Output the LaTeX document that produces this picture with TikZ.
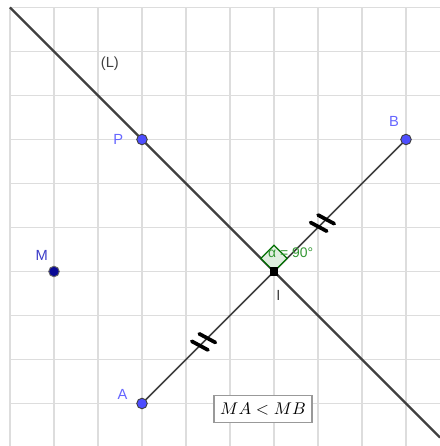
\documentclass[tikz,border=0pt]{standalone}
\usepackage{fontspec}
\setmainfont{Liberation Sans}

\definecolor{ptblue}{RGB}{77,77,255}
\definecolor{ptdark}{RGB}{10,10,150}
\definecolor{lblblue}{RGB}{102,102,255}
\definecolor{lbldark}{RGB}{60,60,200}
\definecolor{anggreen}{RGB}{0,110,0}
\definecolor{angtext}{RGB}{50,150,50}
\definecolor{gridgray}{RGB}{221,221,221}
\definecolor{linegray}{RGB}{64,64,64}

\tikzset{
  gridline/.style={gridgray, line width=0.9pt},
  lineL/.style={linegray, line width=1.5pt},
  segline/.style={linegray, line width=1.1pt},
  tickmark/.style={black, line width=2.4pt, line cap=round},
  angmark/.style={draw=anggreen, fill=anggreen!12, line width=0.8pt},
  pt/.style={circle, draw=black!75, fill=ptblue, line width=0.6pt, minimum size=6.8pt, inner sep=0pt},
  ptM/.style={circle, draw=black!60, fill=ptdark, line width=0.6pt, minimum size=6.8pt, inner sep=0pt},
  ptI/.style={rectangle, fill=black, minimum size=5.5pt, inner sep=0pt},
  lbl/.style={inner sep=0pt, font=\fontsize{9.5}{11}\selectfont},
}

\begin{document}
\begin{tikzpicture}
        \def\t{0.12}
        \useasboundingbox (-0.2273,-0.9659) rectangle (9.7727,9.1705);

        % grid
        \draw[gridline] (0,-0.9659) grid (9.7727,9);

        % points
        \coordinate (A) at (3,0);
        \coordinate (B) at (9,6);
        \coordinate (I) at (6,3);
        \coordinate (P) at (3,6);
        \coordinate (M) at (1,3);
        \coordinate (Ltop) at (0,9);
        \coordinate (Lbot) at (9.7727,-0.7727);

        % line (L) and segment [AB]
        \draw[lineL] (Ltop) -- (Lbot);
        \draw[segline] (A) -- (B);

        % right angle at I
        \draw[angmark] (I) -- ++(45:0.42) -- ++(135:0.42) -- ++(225:0.42) -- cycle;
        \node[anchor=west, inner sep=0pt, text=angtext, font=\fontsize{9}{11}\selectfont] (alpha) at (5.86,3.42) {α = 90°};

        % equal marks on [AI] and [IB]
        \coordinate (tA) at (4.4,1.4);
        \coordinate (tB) at (7.1,4.1);
        \begin{scope}[shift={(tA)}, rotate=45]
            \draw[tickmark] (-\t-0.06,0.2) -- (-\t+0.06,-0.2);
            \draw[tickmark] (\t-0.06,0.2) -- (\t+0.06,-0.2);
        \end{scope}
        \begin{scope}[shift={(tB)}, rotate=45]
            \draw[tickmark] (-\t-0.06,0.2) -- (-\t+0.06,-0.2);
            \draw[tickmark] (\t-0.06,0.2) -- (\t+0.06,-0.2);
        \end{scope}

        % point marks
        \node[pt] (ptA) at (A) {};
        \node[pt] (ptB) at (B) {};
        \node[pt] (ptP) at (P) {};
        \node[ptM] (ptM) at (M) {};
        \node[ptI] (ptI) at (I) {};

        % labels
        \node[lbl, text=lblblue] (labP) at (2.46,5.99) {P};
        \node[lbl, text=lblblue] (labB) at (8.73,6.40) {B};
        \node[lbl, text=lblblue] (labA) at (2.56,0.20) {A};
        \node[lbl, text=lbldark] (labM) at (0.72,3.37) {M};
        \node[lbl, text=linegray] (labI) at (6.10,2.45) {I};
        \node[lbl, text=linegray] (labL) at (2.27,7.72) {(L)};

        % relation
        \node[draw=black!40, fill=white, line width=0.8pt, inner xsep=4pt, minimum height=17pt,
              font=\fontsize{11}{13}\selectfont] (rel) at (5.75,-0.125) {$MA<MB$};
\end{tikzpicture}
\end{document}
